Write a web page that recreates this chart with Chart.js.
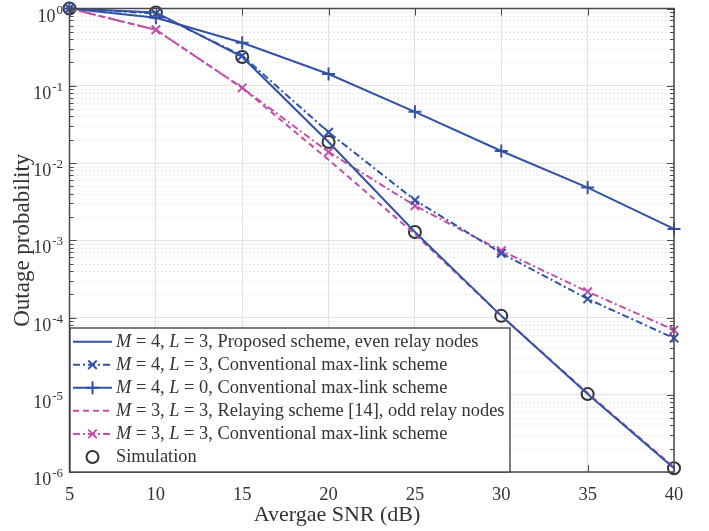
<!DOCTYPE html>
<html><head><meta charset="utf-8">
<script src="https://cdn.jsdelivr.net/npm/chart.js@4.4.0/dist/chart.umd.min.js"></script>
<style>html,body{margin:0;padding:0;background:#fff;}</style>
</head><body>
<canvas id="c" width="709" height="531" style="width:709px;height:531px;display:block"></canvas>
<script>
// ---- data ----
const snr = [5, 10, 15, 20, 25, 30, 35, 40];
const proposedM4L3 = [1.0, 0.89, 0.236, 0.0187, 1.28e-3, 1.05e-4, 1.02e-5, 1.12e-6];
const convM4L3     = [1.0, 0.86, 0.245, 0.025, 3.3e-3, 6.8e-4, 1.74e-4, 5.4e-5];
const convM4L0     = [1.0, 0.76, 0.36, 0.142, 0.046, 0.0143, 4.8e-3, 1.4e-3];
const relayM3L3    = [1.0, 0.53, 0.094, 0.011, 1.2e-3, 1.05e-4, 1.05e-5, 1.15e-6];
const convM3L3     = [1.0, 0.53, 0.094, 0.0139, 2.8e-3, 7.3e-4, 2.16e-4, 6.9e-5];
const simulation   = [1.0, 0.89, 0.236, 0.0187, 1.28e-3, 1.05e-4, 1.02e-5, 1.12e-6];
const xTicks = [5, 10, 15, 20, 25, 30, 35, 40];
const yTickExponents = [0, -1, -2, -3, -4, -5, -6];
const xTitle = 'Avergae SNR (dB)';
const yTitle = 'Outage probability';
const legendLabels = [
  [['M',1],[' = 4, ',0],['L',1],[' = 3, Proposed scheme, even relay nodes',0]],
  [['M',1],[' = 4, ',0],['L',1],[' = 3, Conventional max-link scheme',0]],
  [['M',1],[' = 4, ',0],['L',1],[' = 0, Conventional max-link scheme',0]],
  [['M',1],[' = 3, ',0],['L',1],[' = 3, Relaying scheme [14], odd relay nodes',0]],
  [['M',1],[' = 3, ',0],['L',1],[' = 3, Conventional max-link scheme',0]],
  [['Simulation',0]]
];

const FONT = '"Liberation Serif", "Times New Roman", serif';
const TXT = '#333333';
const BLUE = '#3152a6';
const MAG = '#c24fa8';
const DASHDOT = [7, 3, 2, 3];
const DASHED = [6, 4];

const pts = arr => arr.map((v, i) => ({x: snr[i], y: v}));

const styles = [
  {color: BLUE, dash: [], marker: null},
  {color: BLUE, dash: DASHDOT, marker: 'crossRot'},
  {color: BLUE, dash: [], marker: 'cross'},
  {color: MAG, dash: DASHED, marker: null},
  {color: MAG, dash: DASHDOT, marker: 'crossRot'},
  {color: '#333333', dash: null, marker: 'circle'}
];
const series = [proposedM4L3, convM4L3, convM4L0, relayM3L3, convM3L3, simulation];

const datasets = series.map((s, i) => {
  const st = styles[i];
  const isSim = i === 5;
  return {
    label: legendLabels[i].map(p => p[0]).join(''),
    data: pts(s),
    borderColor: st.color,
    backgroundColor: st.color,
    borderWidth: 2,
    borderDash: st.dash || [],
    showLine: !isSim,
    fill: false,
    tension: 0,
    clip: false,
    pointStyle: st.marker || 'circle',
    pointRadius: st.marker ? (st.marker === 'cross' ? 6.5 : 6) : 0,
    pointHoverRadius: 0,
    pointBorderWidth: 2,
    pointBorderColor: st.color,
    pointBackgroundColor: isSim ? 'rgba(0,0,0,0)' : st.color
  };
});

function drawMarker(ctx, type, x, y, color) {
  ctx.save();
  ctx.setLineDash([]);
  ctx.strokeStyle = color; ctx.lineWidth = 2;
  ctx.beginPath();
  if (type === 'cross') {
    ctx.moveTo(x - 6.5, y); ctx.lineTo(x + 6.5, y);
    ctx.moveTo(x, y - 6.5); ctx.lineTo(x, y + 6.5);
  } else if (type === 'crossRot') {
    const r = 6 * Math.SQRT1_2;
    ctx.moveTo(x - r, y - r); ctx.lineTo(x + r, y + r);
    ctx.moveTo(x - r, y + r); ctx.lineTo(x + r, y - r);
  } else if (type === 'circle') {
    ctx.arc(x, y, 6, 0, Math.PI * 2);
  }
  ctx.stroke();
  ctx.restore();
}

const decorPlugin = {
  id: 'decor',
  beforeDatasetsDraw(chart) {
    const ctx = chart.ctx, a = chart.chartArea, ys = chart.scales.y;
    ctx.save();
    ctx.strokeStyle = '#d2d2d2'; ctx.lineWidth = 1; ctx.setLineDash([1, 3]);
    for (let e = -6; e < 0; e++) {
      for (let m = 2; m <= 9; m++) {
        const py = Math.round(ys.getPixelForValue(m * Math.pow(10, e))) + 0.5;
        ctx.beginPath(); ctx.moveTo(a.left, py); ctx.lineTo(a.right, py); ctx.stroke();
      }
    }
    ctx.restore();
  },
  afterDatasetsDraw(chart) {
    const ctx = chart.ctx, a = chart.chartArea, ys = chart.scales.y, xs = chart.scales.x;
    ctx.save();
    ctx.setLineDash([]);
    ctx.strokeStyle = '#4a4a4a'; ctx.lineWidth = 1.5;
    ctx.strokeRect(a.left, a.top, a.right - a.left, a.bottom - a.top);
    ctx.lineWidth = 1;
    ctx.beginPath();
    xTicks.forEach(v => {
      const px = Math.round(xs.getPixelForValue(v)) + 0.5;
      ctx.moveTo(px, a.bottom); ctx.lineTo(px, a.bottom - 7);
      ctx.moveTo(px, a.top); ctx.lineTo(px, a.top + 7);
    });
    yTickExponents.forEach(e => {
      const py = Math.round(ys.getPixelForValue(Math.pow(10, e))) + 0.5;
      ctx.moveTo(a.left, py); ctx.lineTo(a.left + 7, py);
      ctx.moveTo(a.right, py); ctx.lineTo(a.right - 7, py);
    });
    for (let e = -6; e < 0; e++) {
      for (let m = 2; m <= 9; m++) {
        const py = Math.round(ys.getPixelForValue(m * Math.pow(10, e))) + 0.5;
        ctx.moveTo(a.left, py); ctx.lineTo(a.left + 4, py);
        ctx.moveTo(a.right, py); ctx.lineTo(a.right - 4, py);
      }
    }
    ctx.stroke();
    ctx.restore();
  },
  afterDraw(chart) {
    const ctx = chart.ctx, a = chart.chartArea, ys = chart.scales.y;
    // y tick labels 10^e
    ctx.save();
    ctx.fillStyle = TXT; ctx.textBaseline = 'alphabetic'; ctx.textAlign = 'left';
    yTickExponents.forEach(e => {
      const py = ys.getPixelForValue(Math.pow(10, e));
      const sup = String(e);
      ctx.font = '13px ' + FONT;
      const ws = ctx.measureText(sup).width;
      ctx.font = '18px ' + FONT;
      const wb = ctx.measureText('10').width;
      const right = a.left - 6.5;
      const sx = right - ws;
      ctx.fillText('10', sx - 1 - wb, py + 13);
      ctx.font = '13px ' + FONT;
      ctx.fillText(sup, sx, py + 5);
    });
    ctx.restore();

    // legend
    const bx = a.left + 0.5, bw = 440, bh = 144, by = a.bottom - bh;
    ctx.save();
    ctx.fillStyle = '#ffffff';
    ctx.fillRect(bx, by, bw, bh);
    ctx.strokeStyle = '#3a3a3a'; ctx.lineWidth = 1.3; ctx.setLineDash([]);
    ctx.strokeRect(bx, by, bw, bh);
    const rowH = 23.05;
    legendLabels.forEach((segs, i) => {
      const cy = by + 13.7 + i * rowH;
      const st = styles[i];
      const x0 = bx + 3, x1 = bx + 42, xm = (x0 + x1) / 2;
      if (st.dash !== null) {
        ctx.save();
        ctx.strokeStyle = st.color; ctx.lineWidth = 2; ctx.setLineDash(st.dash);
        ctx.beginPath(); ctx.moveTo(x0, cy); ctx.lineTo(x1, cy); ctx.stroke();
        ctx.restore();
      }
      if (st.marker) drawMarker(ctx, st.marker, xm, cy, st.color);
      let tx = bx + 46;
      ctx.fillStyle = TXT; ctx.textBaseline = 'middle'; ctx.textAlign = 'left';
      segs.forEach(([t, it]) => {
        ctx.font = (it ? 'italic ' : '') + '18.4px ' + FONT;
        ctx.fillText(t, tx, cy);
        tx += ctx.measureText(t).width;
      });
    });
    ctx.restore();
  }
};

new Chart(document.getElementById('c'), {
  type: 'line',
  data: {datasets},
  plugins: [decorPlugin],
  options: {
    responsive: false,
    animation: false,
    devicePixelRatio: 1,
    layout: {padding: {left: 0, right: 35, top: 8.5, bottom: 0}},
    plugins: {
      legend: {display: false},
      tooltip: {enabled: false},
      title: {
        display: true, position: 'bottom', text: xTitle, color: TXT,
        font: {family: FONT, size: 22, weight: 'normal', lineHeight: 1.2},
        padding: {top: 0, bottom: 3}
      }
    },
    scales: {
      x: {
        type: 'linear', min: 5, max: 40,
        afterBuildTicks: s => { s.ticks = xTicks.map(v => ({value: v})); },
        afterFit: s => { s.height = 29.6; },
        ticks: {color: TXT, font: {family: FONT, size: 18.5}, padding: 12, maxRotation: 0,
          callback: v => String(v)},
        grid: {color: '#e2e2e2', lineWidth: 1, drawTicks: false},
        border: {display: false}
      },
      y: {
        type: 'logarithmic', min: 1e-6, max: 1,
        afterBuildTicks: s => { s.ticks = yTickExponents.map(e => ({value: Math.pow(10, e)})); },
        afterFit: s => { s.width = 69.5; },
        ticks: {display: false},
        grid: {color: '#e2e2e2', lineWidth: 1, drawTicks: false},
        border: {display: false},
        title: {display: true, text: yTitle, color: TXT,
          font: {family: FONT, size: 23, weight: 'normal', lineHeight: 1.2},
          padding: {top: 9, bottom: 0}}
      }
    }
  }
});
</script>
</body></html>
